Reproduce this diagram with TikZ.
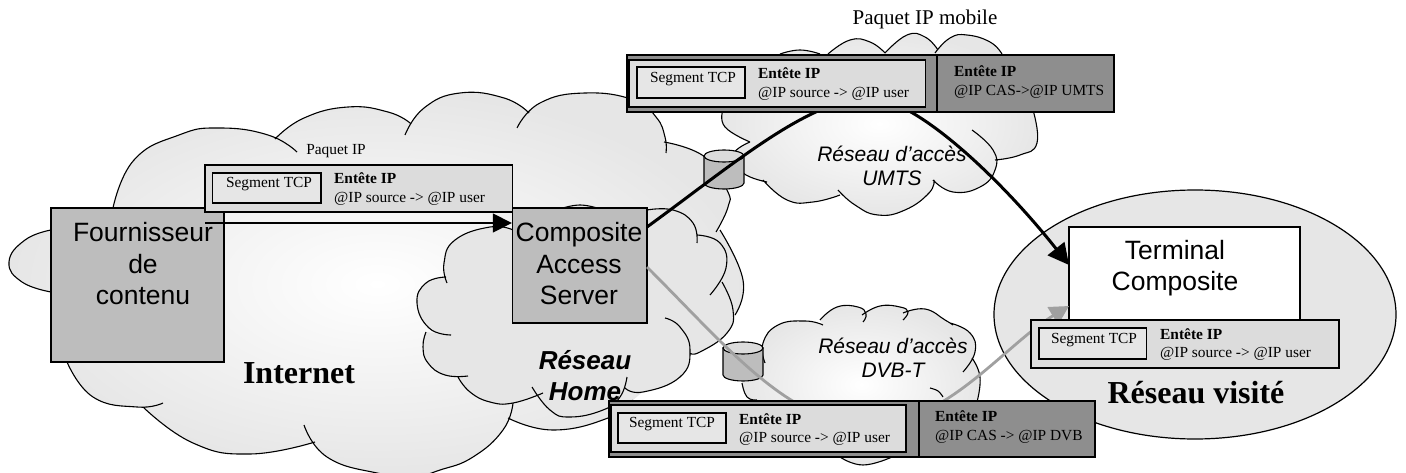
\documentclass[tikz,border=0pt]{standalone}
\usepackage{fontspec}
\setmainfont{Liberation Serif}
\newfontfamily\arialf{Liberation Sans}
\usetikzlibrary{arrows.meta,fit,shapes.geometric}
\definecolor{boxgray}{HTML}{BDBDBD}
\definecolor{lightpk}{HTML}{DCDCDC}
\definecolor{darkpk}{HTML}{8E8E8E}
\definecolor{cloudgray}{HTML}{E6E6E6}
\definecolor{arrowgray}{HTML}{A0A0A0}
\newcommand\A[1]{plot[smooth,tension=.8] coordinates {#1}}
\def\B#1{}
\newcommand\nuage[2]{%
  \def\B##1{-- plot[smooth,tension=.8] coordinates {##1}}%
  \path[#1] #2 -- cycle;%
  \def\B##1{plot[smooth,tension=.8] coordinates {##1}}%
  \draw[cloudline] #2;}
\newcommand\fs[1]{\fontsize{#1}{#1}\selectfont}
\tikzset{
  cloudline/.style={draw=black,line width=1.1pt},
  softcloud/.style={shade,inner color=white,outer color=cloudgray},
  bigbox/.style={draw=black,line width=1.4pt,fill=boxgray,inner sep=0pt},
  pkouter/.style={draw=black,line width=1.6pt,fill=darkpk,inner sep=0pt},
  pklight/.style={draw=black,line width=1.6pt,fill=lightpk,inner sep=0pt},
  segbox/.style={draw=black,line width=1.3pt,fill=lightpk!70!white,inner sep=0pt},
  pktext/.style={inner sep=0pt,anchor=west,align=left,font=\fontsize{15.4}{18.5}\selectfont},
  segtext/.style={inner sep=0pt,font=\fs{15.4}},
  sanstext/.style={inner sep=0pt,align=center,font=\arialf\fs{26.5}},
  accestext/.style={inner sep=0pt,align=center,font=\arialf\itshape\fs{21}},
  bigtext/.style={inner sep=0pt,font=\bfseries\fs{32}},
  cylbody/.style={draw=black,line width=1.1pt,fill=boxgray},
  cyltop/.style={draw=black,line width=1.1pt,fill=lightpk},
}
\newcommand\cyl[3]{% name, left x, top y
  \draw[cylbody] (#2,#3+6) -- (#2,#3+33) arc[start angle=180,end angle=360,x radius=20pt,y radius=6pt] -- (#2+40,#3+6) -- cycle;
  \draw[cyltop] (#2+20,#3+6) ellipse[x radius=20pt,y radius=6pt];
  \coordinate (#1) at (#2+20,#3+20);
}
\begin{document}
\begin{tikzpicture}[x=1pt,y=-1pt]
\useasboundingbox (0,0) rectangle (1406,473);
\clip (0,0) rectangle (1406,473);

% Internet
\nuage{softcloud}{
 \A{(51,292)(22,282)(9,262)(25,240)(51,230)}
 \B{(113,208)(134,160)(179,135)(219,128)(268,135)(297,152)}
 \B{(275,139)(304,118)(348,107)(388,112)(410,123)}
 \B{(405,135)(424,108)(460,93)(504,98)(529,113)}
 \B{(517,128)(540,103)(585,93)(634,100)(656,117)(665,137)(666,153)}
 \B{(664,142)(705,157)(727,190)(728,207)(716,232)}
 \B{(720,230)(743,280)(735,315)}
 \B{(633,400)(608,418)(553,430)(508,418)}
 \B{(513,403)(503,430)(473,457)(440,470)(415,476)(377,473)(327,457)(304,425)}
 \B{(315,442)(250,454)(193,443)(143,407)}
 \B{(163,403)(137,407)(93,397)(67,362)}
}
% UMTS
\nuage{softcloud}{
 \A{(780,54)(800,50)(820,54)}
 \B{(828,54)(850,40)(870,42)(885,53)}
 \B{(885,53)(907,35)(925,37)(938,50)}
 \B{(935,53)(950,38)(967,35)(990,42)(1002,54)}
 \B{(1033,110)(1037,143)(1020,155)(995,160)}
 \B{(972,130)(993,150)(995,170)(980,187)(953,192)(933,180)}
 \B{(934,180)(929,193)(905,210)(878,215)(855,205)(838,190)}
 \B{(840,195)(813,202)(787,200)(763,180)}
 \B{(767,182)(743,173)(733,155)(750,142)}
 \B{(750,142)(725,127)(723,110)}
}
% DVB-T
\nuage{softcloud}{
 \A{(757,400)(747,397)(742,383)}
 \B{(765,363)(763,343)(778,325)(805,321)(823,325)}
 \B{(820,320)(837,307)(858,307)(866,314)(863,322)}
 \B{(862,315)(880,306)(900,307)(908,312)(903,320)}
 \B{(903,313)(925,309)(945,320)(953,325)}
 \B{(950,323)(970,333)(975,352)(963,372)}
 \B{(972,358)(980,377)(977,402)}
 \B{(892,457)(863,465)(840,457)}
}
\draw[cloudline] plot[smooth,tension=.7] coordinates {(930,388)(938,391)(943,397)};

% Cylinders
\cyl{cylU}{704}{150}
\cyl{cylD}{723}{342}

% Home
\nuage{fill=cloudgray}{
 \A{(468,376)(445,375)(428,363)(423,347)(426,332)}
 \B{(451,335)(429,328)(417,303)(426,283)(446,277)}
 \B{(447,283)(444,263)(455,240)(490,227)(513,230)}
 \B{(563,208)(580,205)(597,208)}
 \B{(647,210)(673,210)(693,223)(697,243)}
 \B{(697,235)(720,243)(726,268)(710,295)}
 \B{(722,282)(733,310)(727,333)(700,352)(690,353)}
 \B{(665,318)(680,327)(690,350)(680,377)(643,392)(625,388)}
 \B{(627,377)(620,397)(603,410)(570,417)(550,410)(532,387)}
 \B{(543,393)(513,403)(490,402)(470,392)(458,377)}
}

% Visited network
\node[ellipse,draw=black,line width=1.2pt,fill=cloudgray,inner sep=0pt,minimum width=402pt,minimum height=249pt] (visite) at (1195,314.5) {};

% Main boxes
\node[bigbox,fit={(51,208)(224,362)}] (fourn) {};
\node[bigbox,fit={(512.5,208)(647,323)}] (cas) {};
\node[draw=black,line width=1.4pt,fill=white,inner sep=0pt,fit={(1069,227)(1300,322)}] (term) {};
\node[sanstext] (tfourn) at (143,264) {Fournisseur\\[5pt]de\\[5pt]contenu};
\node[sanstext] (tcas) at (579,264) {Composite\\[5pt]Access\\[5pt]Server};
\node[sanstext] (tterm) at (1175,268) {Terminal\\[5pt]Composite};

% Connectors
\coordinate (a0) at (205,223);
\coordinate (b0) at (647,227);
\coordinate (bm) at (870,98);
\coordinate (b1) at (1069,265);
\coordinate (g0) at (647,267);
\coordinate (gm) at (870,425);
\coordinate (g1) at (1069,306);
\draw[line width=1.6pt,-{Triangle[length=19pt,width=19pt]}] (a0) -- (cas.west |- a0);
\draw[line width=3pt,-{Triangle[length=21pt,width=21pt]}] (b0) .. controls (735,163) and (810,98) .. (bm) .. controls (915,98) and (1000,178) .. (b1);
\draw[arrowgray,line width=2.8pt,-{Triangle[length=19pt,width=20pt]}] (g0) .. controls (730,350) and (790,425) .. (gm) .. controls (945,425) and (1005,345) .. (g1);

% Packet IP
\node[draw=black,line width=1.4pt,fill=lightpk,inner sep=0pt,fit={(205,165)(512.5,212)}] (pk1) {};
\node[segbox,fit={(212.5,173)(321,203)}] (s1) {};
\node[segtext] (st1) at (269,184) {Segment TCP};
\node[pktext] (e1) at (334,189) {\textbf{Entête IP}\\@IP source -> @IP user};
\node[segtext] (lp1) at (336,151) {Paquet IP};

% Packet mobile
\node[pkouter,fit={(627,55)(1114,112)}] (pk2) {};
\node[pklight,fit={(629,60)(925.5,107)}] (pk2i) {};
\node[segbox,fit={(637,67)(745,98)}] (s2) {};
\coordinate (v2) at (937,0);
\draw[line width=1.4pt] (v2 |- pk2.north) -- (v2 |- pk2.south);
\node[segtext] (st2) at (693,79) {Segment TCP};
\node[pktext] (e2) at (758,84) {\textbf{Entête IP}\\@IP source -> @IP user};
\node[pktext] (e2b) at (954,82) {\textbf{Entête IP}\\@IP CAS->@IP UMTS};
\node[inner sep=0pt,font=\fs{21}] (lp2) at (925,19) {Paquet IP mobile};

% Packet DVB
\node[pkouter,fit={(609,401)(1095,457)}] (pk3) {};
\node[pklight,fit={(611,405)(906,452)}] (pk3i) {};
\node[segbox,fit={(618,413)(726,443)}] (s3) {};
\coordinate (v3) at (919,0);
\draw[line width=1.4pt] (v3 |- pk3.north) -- (v3 |- pk3.south);
\node[segtext] (st3) at (672,424) {Segment TCP};
\node[pktext] (e3) at (739,429.5) {\textbf{Entête IP}\\@IP source -> @IP user};
\node[pktext] (e3b) at (935,427) {\textbf{Entête IP}\\@IP CAS -> @IP DVB};

% Packet terminal
\node[draw=black,line width=1.4pt,fill=lightpk,inner sep=0pt,fit={(1031,320)(1339,368)}] (pk4) {};
\node[segbox,fit={(1039,328)(1146.5,359)}] (s4) {};
\node[segtext] (st4) at (1094,340) {Segment TCP};
\node[pktext] (e4) at (1160,344.5) {\textbf{Entête IP}\\@IP source -> @IP user};

% Labels
\node[bigtext] (linternet) at (299,373) {Internet};
\node[bigtext] (lvisite) at (1196,393) {Réseau visité};
\node[inner sep=0pt,align=center,font=\arialf\bfseries\itshape\fs{26}] (lhome) at (585,376) {Réseau\\[5pt]Home};
\node[accestext] (lumts) at (892,166) {Réseau d’accès\\[3pt]UMTS};
\node[accestext] (ldvb) at (893,358) {Réseau d’accès\\[3pt]DVB-T};
\end{tikzpicture}
\end{document}
